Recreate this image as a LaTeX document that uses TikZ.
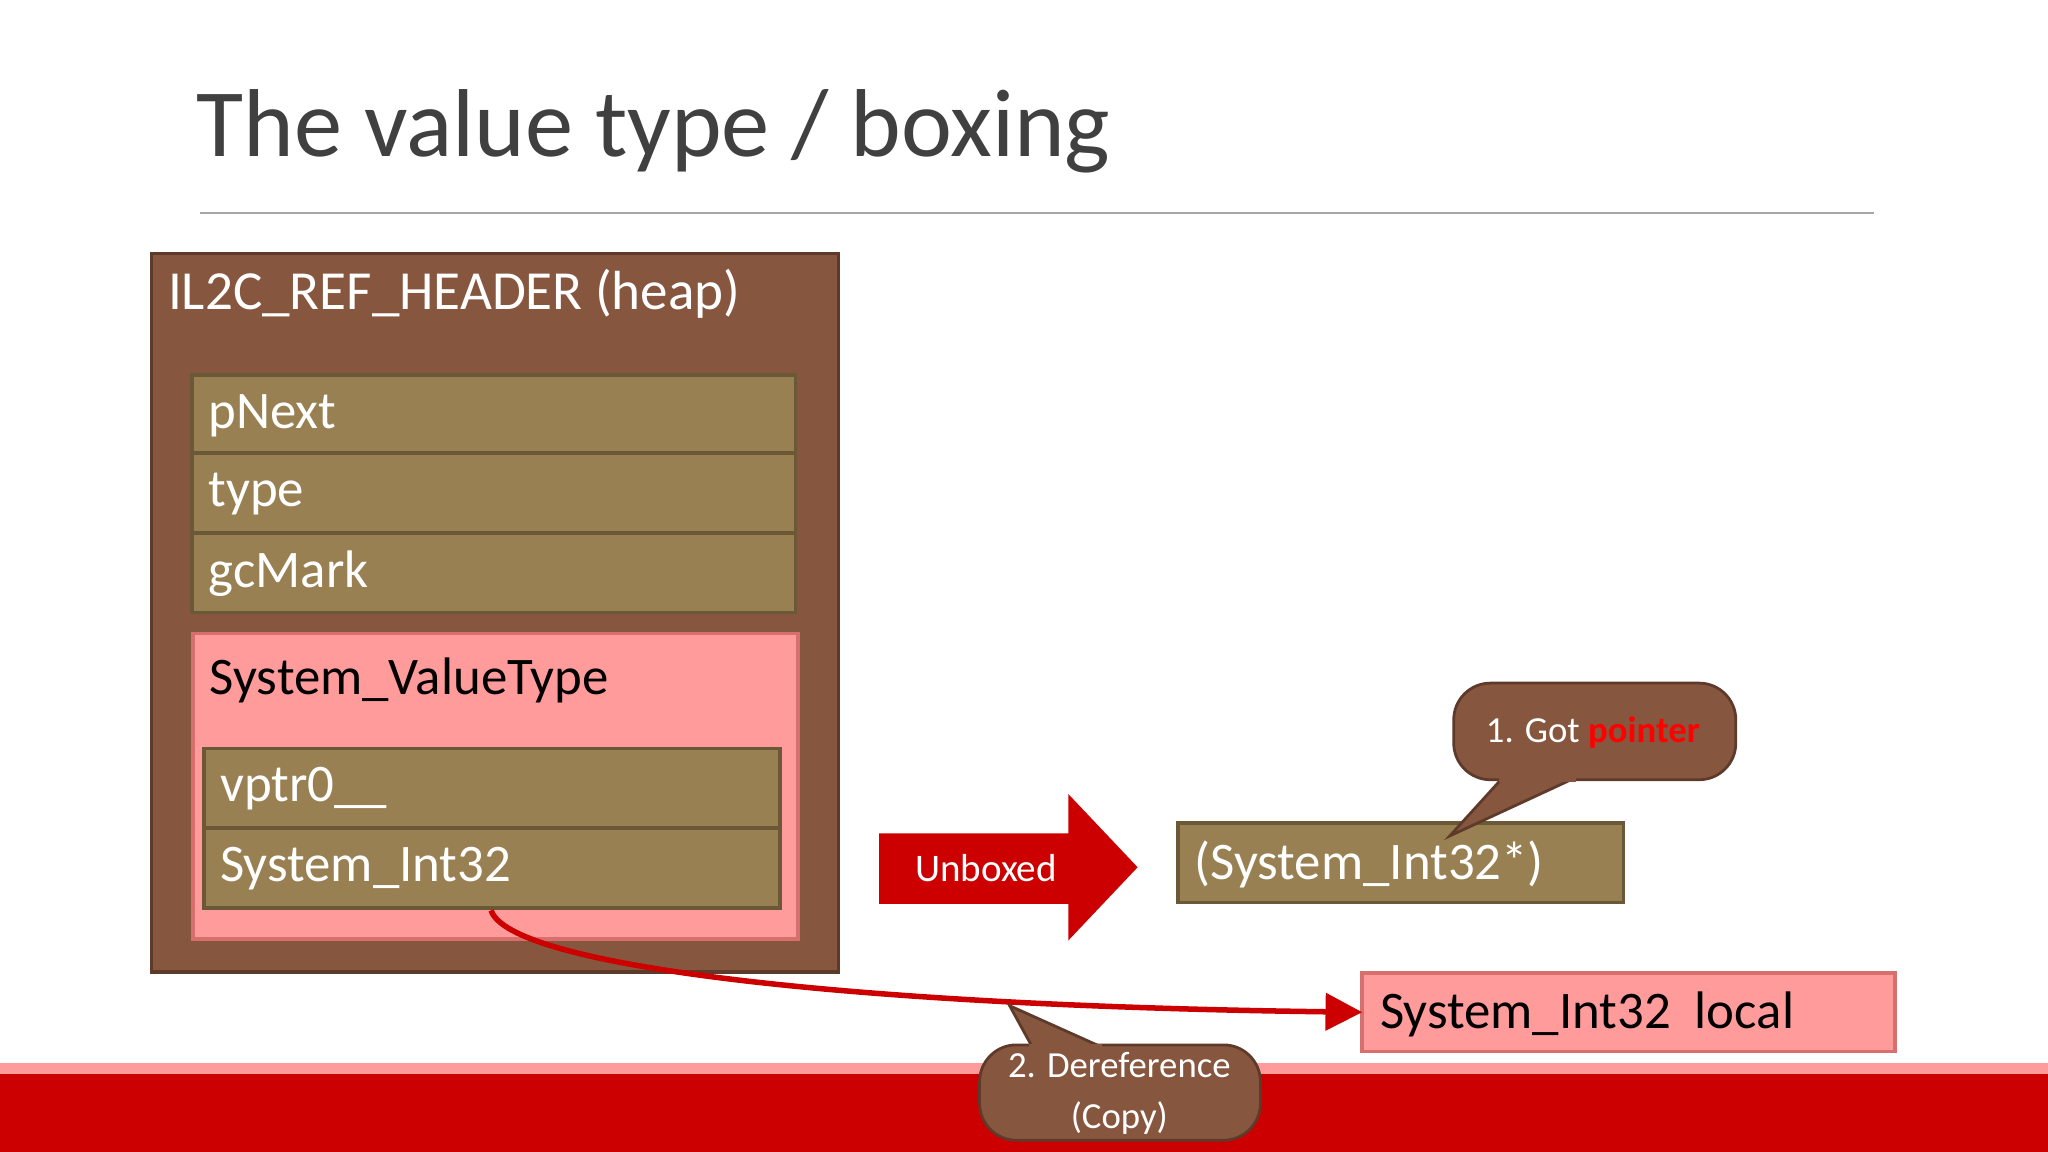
\documentclass[tikz,border=0pt]{standalone}
\usepackage{fontspec}
\setmainfont{Carlito}
\usetikzlibrary{arrows.meta}
\definecolor{brn}{HTML}{87563F}
\definecolor{brnd}{HTML}{5E3A2A}
\definecolor{olv}{HTML}{998052}
\definecolor{olvd}{HTML}{6B5836}
\definecolor{pnk}{HTML}{FF9B9B}
\definecolor{pnkd}{HTML}{D86F6F}
\definecolor{rd}{HTML}{CC0000}
\begin{document}
\begin{tikzpicture}[x=0.01cm,y=-0.01cm,
  field/.style={draw=olvd,fill=olv,line width=0.8pt,text=white,font=\fontsize{11.5}{13}\selectfont,anchor=north west,inner sep=0pt,align=left},
  lbl/.style={anchor=west,inner sep=0pt},
  callout/.style={fill=brn,draw=brnd,line width=0.6pt}]
\useasboundingbox (0,0) rectangle (1568,882);
\fill[white] (0,0) rectangle (1568,882);
% title
\node[lbl,anchor=base west,text=black!75,font=\fontsize{21}{24}\selectfont] (title) at (150,120) {The value type / boxing};
\draw[gray!70,line width=0.6pt] (153,163) -- (1435,163);
% bottom band
\fill[pnk] (0,814) rectangle (1568,822);
\fill[rd] (0,822) rectangle (1568,882);
% outer box
\draw[fill=brn,draw=brnd,line width=0.8pt] (116,194) rectangle (642,744);
\node[lbl,text=white,font=\fontsize{12}{14}\selectfont] (hdr) at (128,225) {IL2C\_REF\_HEADER (heap)};
\foreach \n/\t/\y in {pn/pNext/287,ty/type/347,gc/gcMark/408}{
  \draw[draw=olvd,fill=olv,line width=0.8pt] (147,\y) rectangle (609,\y+61);
  \node[lbl,text=white,font=\fontsize{11.5}{13}\selectfont] (\n) at (159,\y+31) {\t};
}
% pink value type
\draw[fill=pnk,draw=pnkd,line width=0.8pt] (148,485) rectangle (611,719);
\node[lbl,font=\fontsize{11.5}{13}\selectfont] (vt) at (160,521) {System\_ValueType};
\foreach \n/\t/\y in {vp/vptr0\_\_/573,si/System\_Int32/634}{
  \draw[draw=olvd,fill=olv,line width=0.8pt] (156,\y) rectangle (597,\y+61);
  \node[lbl,text=white,font=\fontsize{11.5}{13}\selectfont] (\n) at (168,\y+31) {\t};
}
\coordinate (start) at (376,697);
% unboxed arrow
\fill[rd] (673,638) -- (818,638) -- (818,608) -- (871,664) -- (818,720) -- (818,692) -- (673,692) -- cycle;
\node[lbl,text=white,font=\fontsize{8.5}{10}\selectfont] (ub) at (700,665) {Unboxed};
% pointer box
\draw[draw=olvd,fill=olv,line width=0.8pt] (902,630) rectangle (1243,691);
\node[lbl,text=white,font=\fontsize{11.5}{13}\selectfont] (ptr) at (914,662) {(System\_Int32*)};
% local box
\draw[fill=pnk,draw=pnkd,line width=0.8pt] (1043,745) rectangle (1451,805);
\node[lbl,font=\fontsize{11.5}{13}\selectfont] (loc) at (1056,777) {System\_Int32\ \ local};
\coordinate (locw) at (1043,775);
% curve
\draw[rd,line width=1.2pt,-{Triangle[length=8pt,width=8pt]}] (start) .. controls (390,740) and (650,770) .. (locw);
% callout 1
\draw[callout,rounded corners=8pt] (1113,523) rectangle (1329,597);
\draw[callout] (1150,596) -- (1110,640) -- (1205,596);
\fill[brn] (1148,590) rectangle (1207,598.5);
\node[lbl,text=white,font=\fontsize{8}{10}\selectfont] (c1) at (1137,561) {1. Got \textcolor{red}{\textbf{pointer}}};
% callout 2
\draw[callout,rounded corners=8pt] (750,800) rectangle (965,873);
\draw[callout] (790,801) -- (773,770) -- (842,801);
\fill[brn] (788,799.5) rectangle (844,806);
\node[text=white,font=\fontsize{8}{11}\selectfont,align=center,inner sep=0pt] (c2) at (857,837) {2. Dereference\\(Copy)};
\end{tikzpicture}
\end{document}
